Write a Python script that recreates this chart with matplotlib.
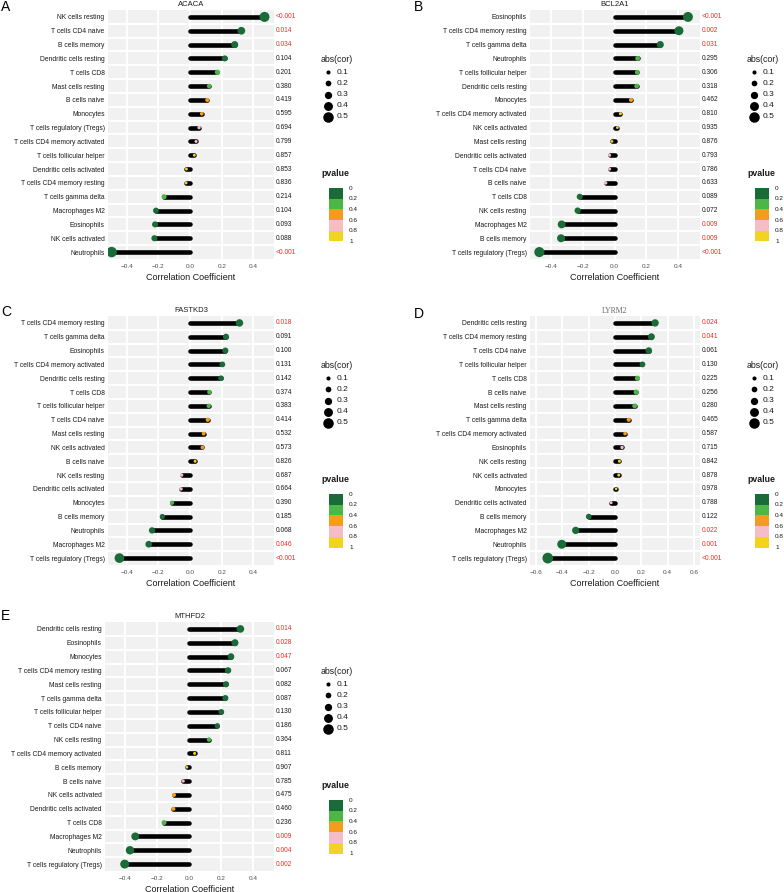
import numpy as np
import matplotlib.pyplot as plt
from matplotlib.patches import Rectangle
from matplotlib.transforms import blended_transform_factory

plt.rcParams['font.family'] = ['Liberation Sans', 'DejaVu Sans']

W, H = 784, 892

# A - ACACA
acaca_cells = ["NK cells resting", "T cells CD4 naive", "B cells memory", "Dendritic cells resting",
               "T cells CD8", "Mast cells resting", "B cells naive", "Monocytes",
               "T cells regulatory (Tregs)", "T cells CD4 memory activated", "T cells follicular helper",
               "Dendritic cells activated", "T cells CD4 memory resting", "T cells gamma delta",
               "Macrophages M2", "Eosinophils", "NK cells activated", "Neutrophils"]
acaca_cor = [0.470, 0.324, 0.282, 0.219, 0.173, 0.120, 0.109, 0.074, 0.057, 0.038, 0.027,
             -0.023, -0.025, -0.164, -0.215, -0.221, -0.225, -0.495]
acaca_p = [0.0005, 0.014, 0.034, 0.104, 0.201, 0.380, 0.419, 0.595, 0.694, 0.799, 0.857,
           0.853, 0.836, 0.214, 0.104, 0.093, 0.088, 0.0005]

# B - BCL2A1
bcl2a1_cells = ["Eosinophils", "T cells CD4 memory resting", "T cells gamma delta", "Neutrophils",
                "T cells follicular helper", "Dendritic cells resting", "Monocytes",
                "T cells CD4 memory activated", "NK cells activated", "Mast cells resting",
                "Dendritic cells activated", "T cells CD4 naive", "B cells naive", "T cells CD8",
                "NK cells resting", "Macrophages M2", "B cells memory", "T cells regulatory (Tregs)"]
bcl2a1_cor = [0.463, 0.406, 0.288, 0.145, 0.143, 0.139, 0.103, 0.036, 0.017, -0.017, -0.032,
              -0.032, -0.057, -0.221, -0.234, -0.335, -0.339, -0.476]
bcl2a1_p = [0.0005, 0.002, 0.031, 0.295, 0.306, 0.318, 0.462, 0.810, 0.935, 0.876, 0.793,
            0.786, 0.633, 0.089, 0.072, 0.009, 0.009, 0.0005]

# C - FASTKD3
fastkd3_cells = ["T cells CD4 memory resting", "T cells gamma delta", "Eosinophils",
                 "T cells CD4 memory activated", "Dendritic cells resting", "T cells CD8",
                 "T cells follicular helper", "T cells CD4 naive", "Mast cells resting",
                 "NK cells activated", "B cells naive", "NK cells resting", "Dendritic cells activated",
                 "Monocytes", "B cells memory", "Neutrophils", "Macrophages M2",
                 "T cells regulatory (Tregs)"]
fastkd3_cor = [0.312, 0.227, 0.223, 0.204, 0.196, 0.122, 0.118, 0.112, 0.086, 0.078, 0.032,
               -0.053, -0.057, -0.114, -0.175, -0.240, -0.261, -0.446]
fastkd3_p = [0.018, 0.091, 0.100, 0.131, 0.142, 0.374, 0.383, 0.414, 0.532, 0.573, 0.826,
             0.687, 0.664, 0.390, 0.185, 0.068, 0.046, 0.0005]

# D - LYRM2
lyrm2_cells = ["Dendritic cells resting", "T cells CD4 memory resting", "T cells CD4 naive",
               "T cells follicular helper", "T cells CD8", "B cells naive", "Mast cells resting",
               "T cells gamma delta", "T cells CD4 memory activated", "Eosinophils",
               "NK cells resting", "NK cells activated", "Monocytes", "Dendritic cells activated",
               "B cells memory", "Macrophages M2", "Neutrophils", "T cells regulatory (Tregs)"]
lyrm2_cor = [0.304, 0.276, 0.256, 0.208, 0.170, 0.160, 0.149, 0.104, 0.076, 0.053, 0.033,
             0.028, 0.008, -0.030, -0.200, -0.299, -0.405, -0.511]
lyrm2_p = [0.024, 0.041, 0.061, 0.130, 0.225, 0.256, 0.280, 0.465, 0.587, 0.715, 0.842,
           0.878, 0.978, 0.788, 0.122, 0.022, 0.001, 0.0005]

# E - MTHFD2
mthfd2_cells = ["Dendritic cells resting", "Eosinophils", "Monocytes", "T cells CD4 memory resting",
                "Mast cells resting", "T cells gamma delta", "T cells follicular helper",
                "T cells CD4 naive", "NK cells resting", "T cells CD4 memory activated",
                "B cells memory", "B cells naive", "NK cells activated", "Dendritic cells activated",
                "T cells CD8", "Macrophages M2", "Neutrophils", "T cells regulatory (Tregs)"]
mthfd2_cor = [0.319, 0.285, 0.260, 0.242, 0.229, 0.225, 0.200, 0.175, 0.123, 0.033, -0.015,
              -0.038, -0.096, -0.100, -0.158, -0.338, -0.371, -0.404]
mthfd2_p = [0.014, 0.028, 0.047, 0.067, 0.082, 0.087, 0.130, 0.186, 0.364, 0.811, 0.907,
            0.785, 0.475, 0.460, 0.236, 0.009, 0.004, 0.002]

size_breaks = [0.1, 0.2, 0.3, 0.4, 0.5]
p_breaks = [0, 0.2, 0.4, 0.6, 0.8, 1]
p_labels = ["0", "0.2", "0.4", "0.6", "0.8", "1"]
pal = ['#1A6B38', '#4CB747', '#F39C1E', '#F5BDC8', '#F3D322']


def p_color(p):
    for k in range(5):
        if p <= p_breaks[k + 1]:
            return pal[k]
    return pal[-1]


def dot_s(v):
    d_px = 2.5 + 16 * abs(v)
    return (d_px * 0.72) ** 2


def p_text(p):
    return "<0.001" if p < 0.001 else f"{p:.3f}"


fig = plt.figure(figsize=(W / 100, H / 100), dpi=100)
ov = fig.add_axes([0, 0, 1, 1])
ov.set_xlim(0, W)
ov.set_ylim(H, 0)
ov.axis('off')


def draw_panel(letter, letter_xy, gene, cells, cor, p, box, xlim, ticks, serif_title=False):
    left, top, right, bottom = box
    ax = fig.add_axes([left / W, 1 - bottom / H, (right - left) / W, (bottom - top) / H])
    n = len(cells)
    y = np.arange(n)
    ax.set_xlim(xlim)
    ax.set_ylim(n - 0.5, -0.5)
    ax.set_facecolor('#F1F1F1')
    for t in ticks:
        ax.axvline(t, color='white', lw=1.4, zorder=1)
    for yy in np.arange(0.5, n - 1, 1):
        ax.axhline(yy, color='white', lw=1.4, zorder=1)
    ax.hlines(y, 0, cor, color='black', lw=3.3, capstyle='round', zorder=2)
    ax.scatter(cor, y, s=[dot_s(c) for c in cor], c=[p_color(v) for v in p],
               linewidths=0, zorder=3)
    ax.set_yticks(y)
    ax.set_yticklabels(cells, fontsize=4.9, color='#1A1A1A')
    ax.set_xticks(ticks)
    ax.set_xticklabels([f"{t:.1f}".replace('-', '\u2212') for t in ticks],
                       fontsize=4.6, color='#4D4D4D')
    ax.tick_params(length=0, pad=2.5)
    ax.tick_params(axis='x', pad=3.5)
    for s in ax.spines.values():
        s.set_visible(False)

    tr = blended_transform_factory(ax.transAxes, ax.transData)
    for yi, pv in zip(y, p):
        ax.text(1.008, yi, p_text(pv), transform=tr, ha='left', va='center', fontsize=4.8,
                color='#E8302A' if pv < 0.05 else '#1A1A1A')

    cx = (left + right) / 2
    if serif_title:
        ov.text(cx, top - 5.3, gene, ha='center', va='center', fontsize=5.6,
                family=['Liberation Serif'], color='#666666')
    else:
        ov.text(cx, top - 5.3, gene, ha='center', va='center', fontsize=5.5, color='#1A1A1A')
    ov.text(cx, bottom + 18, "Correlation Coefficient", ha='center', va='center',
            fontsize=6.5, color='#1A1A1A')
    ov.text(letter_xy[0], letter_xy[1], letter, ha='left', va='center', fontsize=10)

    # size legend
    ov.text(right + 47, top + 50, "abs(cor)", ha='left', va='center', fontsize=6.3, color='#1A1A1A')
    for k, v in enumerate(size_breaks):
        yy = top + 62 + k * 11.25
        ov.scatter(right + 54, yy, s=dot_s(v), color='black', linewidths=0)
        ov.text(right + 63, yy, f"{v:.1f}", ha='left', va='center', fontsize=6, color='#1A1A1A')

    # p-value legend
    ov.text(right + 47, top + 164, "pvalue", ha='left', va='center', fontsize=6.3,
            fontweight='bold', color='#1A1A1A')
    step = 10.7
    for k in range(5):
        ov.add_patch(Rectangle((right + 55, top + 178 + k * step), 14, step,
                               facecolor=pal[k], edgecolor='none'))
    for k, lab in enumerate(p_labels):
        ov.text(right + 75, top + 178 + k * step, lab, ha='left', va='center',
                fontsize=4.6, color='#1A1A1A')


draw_panel("A", (0.7, 7), "ACACA", acaca_cells, acaca_cor, acaca_p,
           (108, 10, 274, 259), (-0.518, 0.53), [-0.4, -0.2, 0.0, 0.2, 0.4])
draw_panel("B", (413.5, 7), "BCL2A1", bcl2a1_cells, bcl2a1_cor, bcl2a1_p,
           (530, 10, 700, 259), (-0.535, 0.539), [-0.4, -0.2, 0.0, 0.2, 0.4])
draw_panel("C", (1.7, 312), "FASTKD3", fastkd3_cells, fastkd3_cor, fastkd3_p,
           (108, 316, 274, 565), (-0.518, 0.53), [-0.4, -0.2, 0.0, 0.2, 0.4])
draw_panel("D", (413.7, 314), "LYRM2", lyrm2_cells, lyrm2_cor, lyrm2_p,
           (530, 316, 700, 565), (-0.646, 0.645), [-0.6, -0.4, -0.2, 0.0, 0.2, 0.4, 0.6],
           serif_title=True)
draw_panel("E", (0.5, 616), "MTHFD2", mthfd2_cells, mthfd2_cor, mthfd2_p,
           (105, 622, 274, 871), (-0.527, 0.529), [-0.4, -0.2, 0.0, 0.2, 0.4])

fig.savefig("out.png", dpi=100)
